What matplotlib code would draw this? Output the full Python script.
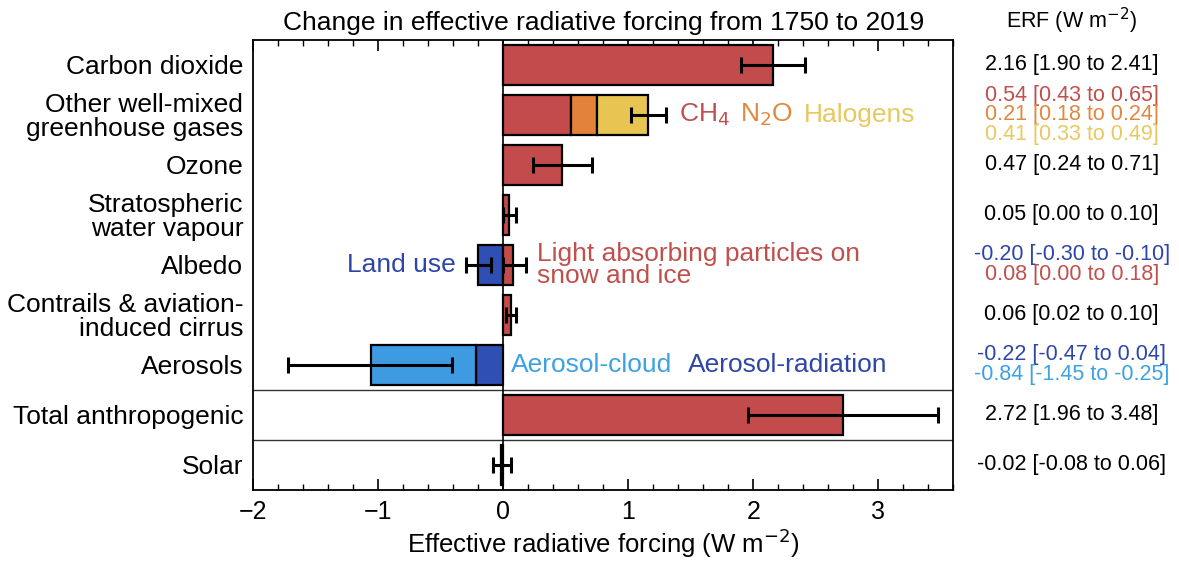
import numpy as np
import matplotlib
matplotlib.use("Agg")
import matplotlib.pyplot as plt
from matplotlib.ticker import MultipleLocator

plt.rcParams['font.family'] = ['Liberation Sans', 'DejaVu Sans']

# Filas de arriba hacia abajo
categorias = ['Carbon dioxide', 'Other well-mixed\ngreenhouse gases', 'Ozone',
              'Stratospheric\nwater vapour', 'Albedo', 'Contrails & aviation-\ninduced cirrus',
              'Aerosols', 'Total anthropogenic', 'Solar']

# Barras simples (fila, valor, min, max)
filas_simples = [0, 2, 3, 5, 7, 8]
erf_simple = [2.16, 0.47, 0.05, 0.06, 2.72, -0.02]
erf_min = [1.90, 0.24, 0.00, 0.02, 1.96, -0.08]
erf_max = [2.41, 0.71, 0.10, 0.10, 3.48, 0.06]

# Otros gases de efecto invernadero (CH4, N2O, halógenos)
ghg_nombres = ['CH$_4$', 'N$_2$O', 'Halogens']
ghg_erf = [0.54, 0.21, 0.41]
ghg_rango = ['[0.43 to 0.65]', '[0.18 to 0.24]', '[0.33 to 0.49]']
ghg_total_min, ghg_total_max = 1.02, 1.30

# Albedo: uso del suelo y partículas absorbentes sobre nieve
albedo_erf = [-0.20, 0.08]
albedo_min = [-0.30, 0.00]
albedo_max = [-0.10, 0.18]

# Aerosoles: aerosol-radiación y aerosol-nube
aer_erf = [-0.22, -0.84]
aer_rango = ['[-0.47 to 0.04]', '[-1.45 to -0.25]']
aer_total_min, aer_total_max = -1.72, -0.41

rojo = '#c44b4b'
naranja = '#e3823b'
amarillo = '#e8c553'
azul_osc = '#2f4fb5'
azul_cla = '#3e9be2'
txt_rojo = '#c0504d'
txt_naranja = '#e0883f'
txt_amarillo = '#e8c860'
txt_azul_osc = '#2e46a8'
txt_azul_cla = '#3ea2e2'

fig = plt.figure(figsize=(11.79, 5.63), dpi=100)
ax = fig.add_axes([0.2146, 0.1297, 0.594, 0.7993])

h = 0.8
kw_bar = dict(height=h, edgecolor='black', linewidth=1.6, zorder=2)
kw_err = dict(fmt='none', ecolor='black', elinewidth=2.2, capsize=6, capthick=2.2, zorder=4)

# Barras simples
colores_simple = [rojo, rojo, rojo, rojo, rojo, azul_osc]
for f, v, lo, hi, c in zip(filas_simples, erf_simple, erf_min, erf_max, colores_simple):
    ax.barh(f, v, color=c, **kw_bar)
    ax.errorbar(v, f, xerr=[[v - lo], [hi - v]], **kw_err)

# Barra apilada de gases
izq = 0
for v, c in zip(ghg_erf, [rojo, naranja, amarillo]):
    ax.barh(1, v, left=izq, color=c, **kw_bar)
    izq += v
ax.errorbar(izq, 1, xerr=[[izq - ghg_total_min], [ghg_total_max - izq]], **kw_err)

# Albedo
for v, lo, hi, c in zip(albedo_erf, albedo_min, albedo_max, [azul_osc, rojo]):
    ax.barh(4, v, color=c, **kw_bar)
    ax.errorbar(v, 4, xerr=[[v - lo], [hi - v]], **kw_err)

# Aerosoles apilados
ax.barh(6, aer_erf[0], color=azul_osc, **kw_bar)
ax.barh(6, aer_erf[1], left=aer_erf[0], color=azul_cla, **kw_bar)
aer_total = sum(aer_erf)
ax.errorbar(aer_total, 6, xerr=[[aer_total - aer_total_min], [aer_total_max - aer_total]], **kw_err)

ax.axvline(0, color='black', linewidth=1.2, zorder=3)
for y in [6.5, 7.5]:
    ax.axhline(y, color='#333333', linewidth=1.0, zorder=1)

ax.set_xlim(-2, 3.6)
ax.set_ylim(8.5, -0.5)
ax.set_yticks(range(len(categorias)))
ax.set_yticklabels(categorias, fontsize=19)
for lab in ax.get_yticklabels():
    lab.set_linespacing(0.95)
ax.tick_params(axis='y', length=0, pad=7)
ax.xaxis.set_major_locator(MultipleLocator(1))
ax.xaxis.set_minor_locator(MultipleLocator(0.2))
ax.set_xticks(np.arange(-2, 4))
ax.set_xticklabels(['\u22122', '\u22121', '0', '1', '2', '3'])
ax.tick_params(axis='x', which='both', direction='in', top=True, labelsize=18, pad=7)
ax.tick_params(axis='x', which='major', length=8, width=1.2)
ax.tick_params(axis='x', which='minor', length=4, width=1.0)
for s in ax.spines.values():
    s.set_linewidth(1.3)

ax.set_xlabel('Effective radiative forcing (W m$^{-2}$)', fontsize=18.5, labelpad=2)
ax.set_title('Change in effective radiative forcing from 1750 to 2019', fontsize=19, pad=7)

# Etiquetas dentro del gráfico
x0 = 1.41
for nom, c in zip(ghg_nombres, [txt_rojo, txt_naranja, txt_amarillo]):
    t = ax.text(x0, 1, nom, color=c, fontsize=19, va='center', ha='left')
    fig.canvas.draw()
    bb = t.get_window_extent().transformed(ax.transData.inverted())
    x0 = bb.x1 + 0.08

ax.text(-0.38, 4, 'Land use', color=txt_azul_osc, fontsize=19, va='center', ha='right')
ax.text(0.27, 4, 'Light absorbing particles on\nsnow and ice', color=txt_rojo,
        fontsize=19, va='center', ha='left', linespacing=0.9)
ax.text(0.06, 6, 'Aerosol-cloud', color=txt_azul_cla, fontsize=19, va='center', ha='left')
ax.text(1.48, 6, 'Aerosol-radiation', color=txt_azul_osc, fontsize=19, va='center', ha='left')

# Columna de valores a la derecha
tr = ax.get_yaxis_transform()
xc = 1.169
fs_der = 15.5
kw_txt = dict(transform=tr, ha='center', va='center', fontsize=fs_der, clip_on=False)
ax.text(xc, -0.57, 'ERF (W m$^{-2}$)', transform=tr, ha='center', va='bottom',
        fontsize=fs_der, clip_on=False)

def rango(v, lo, hi):
    return f'{v:.2f} [{lo:.2f} to {hi:.2f}]'

for f, v, lo, hi in zip(filas_simples, erf_simple, erf_min, erf_max):
    ax.text(xc, f, rango(v, lo, hi), color='black', **kw_txt)
for i, (v, r, c) in enumerate(zip(ghg_erf, ghg_rango, [txt_rojo, txt_naranja, txt_amarillo])):
    ax.text(xc, 1 + (i - 1) * 0.39, f'{v:.2f} {r}', color=c, **kw_txt)
for i, (v, lo, hi, c) in enumerate(zip(albedo_erf, albedo_min, albedo_max, [txt_azul_osc, txt_rojo])):
    ax.text(xc, 4 - 0.2 + i * 0.4, rango(v, lo, hi), color=c, **kw_txt)
for i, (v, r, c) in enumerate(zip(aer_erf, aer_rango, [txt_azul_osc, txt_azul_cla])):
    ax.text(xc, 6 - 0.2 + i * 0.4, f'{v:.2f} {r}', color=c, **kw_txt)

fig.savefig('out.png', dpi=100)
